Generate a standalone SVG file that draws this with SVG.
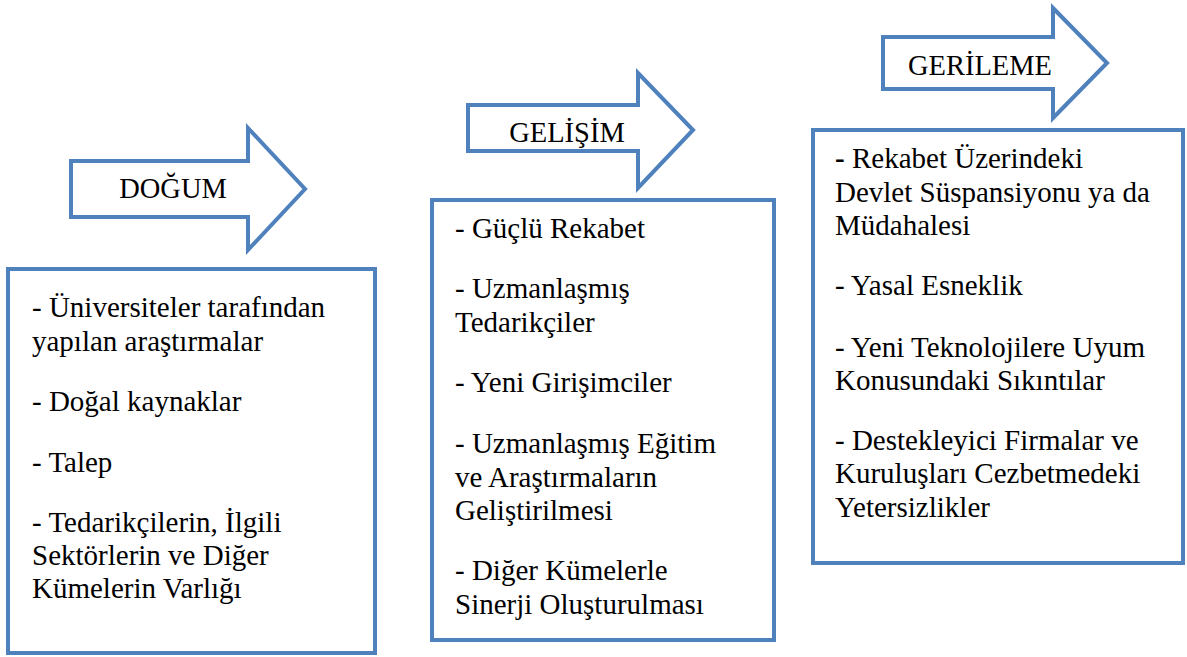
<svg xmlns="http://www.w3.org/2000/svg" width="1187" height="657" viewBox="0 0 1187 657">
<style>
.shape{fill:#fff;stroke:#4F81BD;stroke-width:4}
.arrow{stroke-linejoin:miter}
.lbl{text-anchor:middle}
</style>
<rect width="1187" height="657" fill="#fff"/>
<g id="connectors"></g>
<g font-family="'Liberation Serif', 'Times New Roman', Times, serif" font-size="29" fill="#000">
<g id="dogum-arrow">
<polygon class="shape arrow" points="71,161 248,161 248,128 305,189 248,250 248,217 71,217"/>
<text class="lbl" x="173" y="198" font-size="28.5">DOĞUM</text>
</g>
<g id="gelisim-arrow">
<polygon class="shape arrow" points="468,105 638,105 638,73 693,130 638,188 638,151 468,151"/>
<text class="lbl" x="567" y="142" font-size="28.5">GELİŞİM</text>
</g>
<g id="gerileme-arrow">
<polygon class="shape arrow" points="883,37 1053,37 1053,8 1107,63 1053,118 1053,89 883,89"/>
<text class="lbl" x="980" y="75" font-size="28.5">GERİLEME</text>
</g>
<g id="dogum-box">
<rect class="shape" x="8" y="269" width="367" height="384"/>
<text>
<tspan x="32" y="317">- Üniversiteler tarafından</tspan>
<tspan x="32" y="351">yapılan araştırmalar</tspan>
<tspan x="32" y="411">- Doğal kaynaklar</tspan>
<tspan x="32" y="472">- Talep</tspan>
<tspan x="32" y="532">- Tedarikçilerin, İlgili</tspan>
<tspan x="32" y="565">Sektörlerin ve Diğer</tspan>
<tspan x="32" y="598">Kümelerin Varlığı</tspan>
</text>
</g>
<g id="gelisim-box">
<rect class="shape" x="432" y="200" width="342" height="440"/>
<text>
<tspan x="455" y="238">- Güçlü Rekabet</tspan>
<tspan x="455" y="298">- Uzmanlaşmış</tspan>
<tspan x="455" y="332">Tedarikçiler</tspan>
<tspan x="455" y="392">- Yeni Girişimciler</tspan>
<tspan x="455" y="453">- Uzmanlaşmış Eğitim</tspan>
<tspan x="455" y="487">ve Araştırmaların</tspan>
<tspan x="455" y="520">Geliştirilmesi</tspan>
<tspan x="455" y="580">- Diğer Kümelerle</tspan>
<tspan x="455" y="614">Sinerji Oluşturulması</tspan>
</text>
</g>
<g id="gerileme-box">
<rect class="shape" x="813" y="130" width="370" height="433"/>
<text>
<tspan x="835" y="168"><tspan font-weight="bold">-</tspan> Rekabet Üzerindeki</tspan>
<tspan x="835" y="202">Devlet Süspansiyonu ya da</tspan>
<tspan x="835" y="235">Müdahalesi</tspan>
<tspan x="835" y="295">- Yasal Esneklik</tspan>
<tspan x="835" y="357">- Yeni Teknolojilere Uyum</tspan>
<tspan x="835" y="390">Konusundaki Sıkıntılar</tspan>
<tspan x="835" y="450">- Destekleyici Firmalar ve</tspan>
<tspan x="835" y="483">Kuruluşları Cezbetmedeki</tspan>
<tspan x="835" y="517">Yetersizlikler</tspan>
</text>
</g>
</g>
</svg>
